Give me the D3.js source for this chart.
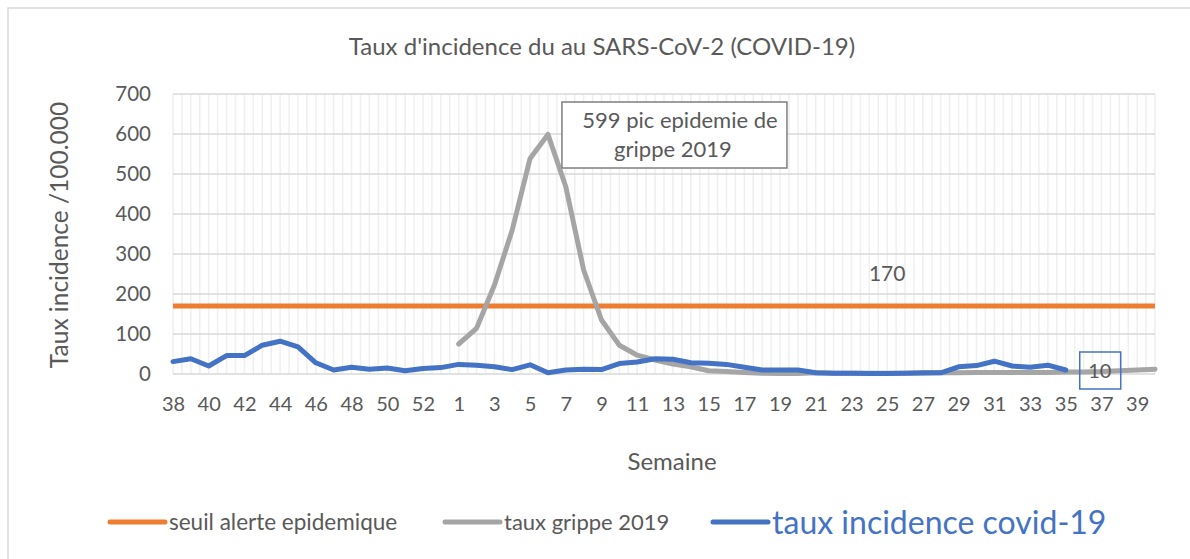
<!DOCTYPE html>
<html>
<head>
<meta charset="utf-8">
<script src="https://cdn.jsdelivr.net/npm/d3@7"></script>
<style>
  body { margin: 0; background: #fff; }
  svg text { font-family: Lato, "Open Sans", sans-serif; fill: #595959; }
</style>
</head>
<body>
<div id="chart"></div>
<script>
// weeks 38-53 (2020) then 1-40 (2021)
var weeks = d3.range(38, 54).concat(d3.range(1, 41));

// taux incidence covid-19 (weeks 38 .. 35)
var covid = [31, 38, 20, 46, 46, 72, 82, 68, 28, 10, 17, 12, 15,
    8, 14, 16, 24, 22, 18, 11, 23, 3, 10, 12, 11, 26, 30,
    38, 37, 28, 27, 24, 17, 10, 10, 10, 3, 2, 2, 1,
    1, 2, 3, 3, 18, 21, 32, 20, 17, 22, 10];

// taux grippe 2019 (starts at week 1)
var grippeStart = 16;
var grippe = [75, 114, 222, 360, 539, 599, 468, 260, 135, 72, 47, 35, 25, 18, 8, 6, 4, 2, 1, 1,
    3, 2, 2, 2, 2, 2, 2, 3, 3, 4, 4, 4, 4, 4, 5,
    5, 6, 8, 10, 12];

var seuil = 170;
var yTicks = [0, 100, 200, 300, 400, 500, 600, 700];

var svgWidth = 1190;
var svgHeight = 559;

var margin = { top: 94, right: 35, bottom: 185, left: 173 };
var width = svgWidth - margin.left - margin.right;
var height = svgHeight - margin.top - margin.bottom;

var svg = d3.select("#chart")
    .append("svg")
    .attr("width", svgWidth)
    .attr("height", svgHeight);

// outer border
svg.append("rect")
    .attr("x", 8).attr("y", 8)
    .attr("width", 1200).attr("height", 600)
    .attr("fill", "none")
    .attr("stroke", "#d9d9d9")
    .attr("stroke-width", 1.5);

var chartGroup = svg.append("g")
    .attr("transform", `translate(${margin.left}, ${margin.top})`);

var idx = d3.range(weeks.length);
var xScale = d3.scaleLinear()
    .domain([0, weeks.length - 1])
    .range([0, width]);

var yScale = d3.scaleLinear()
    .domain([0, 700])
    .range([height, 0]);

// vertical grid every half week
chartGroup.append("g")
    .selectAll("line")
    .data(d3.range(0, weeks.length - 0.5, 0.5))
    .enter()
    .append("line")
    .attr("x1", d => xScale(d))
    .attr("x2", d => xScale(d))
    .attr("y1", 0)
    .attr("y2", height)
    .attr("stroke", "#efefef")
    .attr("stroke-width", 1.5);

// horizontal grid
chartGroup.append("g")
    .selectAll("line")
    .data(yTicks)
    .enter()
    .append("line")
    .attr("x1", 0)
    .attr("x2", width)
    .attr("y1", d => yScale(d))
    .attr("y2", d => yScale(d))
    .attr("stroke", "#d9d9d9")
    .attr("stroke-width", 1.5);

// axes (labels only)
var yAxis = d3.axisLeft(yScale).tickValues(yTicks).tickSize(0).tickPadding(22);
chartGroup.append("g")
    .call(yAxis)
    .call(g => g.select(".domain").remove())
    .selectAll("text")
    .attr("font-size", "20.5px")
    .attr("fill", "#595959");

var xAxis = d3.axisBottom(xScale)
    .tickValues(idx.filter(i => i % 2 === 0))
    .tickFormat(i => weeks[i])
    .tickSize(0)
    .tickPadding(23);
chartGroup.append("g")
    .attr("transform", `translate(0, ${height})`)
    .call(xAxis)
    .call(g => g.select(".domain").remove())
    .selectAll("text")
    .attr("font-size", "20px")
    .attr("fill", "#595959");

// lines
var line = d3.line()
    .defined(d => d != null)
    .x((d, i) => xScale(i))
    .y(d => yScale(d));

var seuilData = idx.map(() => seuil);
var grippeData = idx.map(i => (i >= grippeStart && i - grippeStart < grippe.length) ? grippe[i - grippeStart] : null);
var covidData = idx.map(i => i < covid.length ? covid[i] : null);

chartGroup.append("path")
    .datum(seuilData)
    .attr("d", line)
    .attr("fill", "none")
    .attr("stroke", "#ed7d31")
    .attr("stroke-width", 5);

chartGroup.append("path")
    .datum(grippeData)
    .attr("d", line)
    .attr("fill", "none")
    .attr("stroke", "#a5a5a5")
    .attr("stroke-width", 5)
    .attr("stroke-linejoin", "round")
    .attr("stroke-linecap", "round");

chartGroup.append("path")
    .datum(covidData)
    .attr("d", line)
    .attr("fill", "none")
    .attr("stroke", "#4472c4")
    .attr("stroke-width", 5)
    .attr("stroke-linejoin", "round")
    .attr("stroke-linecap", "round");

// annotation for the flu peak
var peakI = grippe.indexOf(d3.max(grippe)) + grippeStart;
var boxX = xScale(peakI) + 14;
chartGroup.append("rect")
    .attr("x", boxX)
    .attr("y", 8)
    .attr("width", 225)
    .attr("height", 66)
    .attr("fill", "#fff")
    .attr("stroke", "#7f7f7f")
    .attr("stroke-width", 1.5);
chartGroup.append("text")
    .attr("x", boxX + 118)
    .attr("y", 34)
    .attr("text-anchor", "middle")
    .attr("font-size", "22px")
    .text(d3.max(grippe) + " pic epidemie de");
chartGroup.append("text")
    .attr("x", boxX + 111)
    .attr("y", 63)
    .attr("text-anchor", "middle")
    .attr("font-size", "22px")
    .text("grippe 2019");

// label for threshold
chartGroup.append("text")
    .attr("x", xScale(40))
    .attr("y", yScale(seuil) - 25)
    .attr("text-anchor", "middle")
    .attr("font-size", "21px")
    .text(seuil);

// label for last covid value
var lastI = covid.length - 1;
var lblX = xScale(lastI) + 34;
chartGroup.append("rect")
    .attr("x", lblX - 20)
    .attr("y", yScale(covid[lastI]) - 18)
    .attr("width", 41)
    .attr("height", 37)
    .attr("fill", "none")
    .attr("stroke", "#4472c4")
    .attr("stroke-width", 1.5);
chartGroup.append("text")
    .attr("x", lblX)
    .attr("y", yScale(covid[lastI]) + 8)
    .attr("text-anchor", "middle")
    .attr("font-size", "20px")
    .attr("fill", "#404040")
    .text(covid[lastI]);

// title
svg.append("text")
    .attr("x", 602)
    .attr("y", 55)
    .attr("text-anchor", "middle")
    .attr("font-size", "24px")
    .text("Taux d'incidence du au SARS-CoV-2 (COVID-19)");

// axis titles
svg.append("text")
    .attr("transform", "translate(68, 235) rotate(-90)")
    .attr("text-anchor", "middle")
    .attr("font-size", "24.5px")
    .text("Taux incidence  /100.000");

svg.append("text")
    .attr("x", 672)
    .attr("y", 470)
    .attr("text-anchor", "middle")
    .attr("font-size", "24px")
    .text("Semaine");

// legend
var legend = [
    { name: "seuil alerte epidemique", color: "#ed7d31", x: 110, size: 22.5, textColor: "#595959" },
    { name: "taux grippe 2019", color: "#a5a5a5", x: 445, size: 22, textColor: "#595959" },
    { name: "taux incidence covid-19", color: "#4472c4", x: 713, size: 32, textColor: "#4472c4" }
];
var lg = svg.append("g").selectAll("g").data(legend).enter().append("g");
lg.append("line")
    .attr("x1", d => d.x)
    .attr("x2", d => d.x + 55)
    .attr("y1", 522)
    .attr("y2", 522)
    .attr("stroke", d => d.color)
    .attr("stroke-width", 5)
    .attr("stroke-linecap", "round");
lg.append("text")
    .attr("x", d => d.x + 59)
    .attr("y", d => 522 + d.size * 0.36)
    .attr("font-size", d => d.size + "px")
    .style("fill", d => d.textColor)
    .text(d => d.name);
</script>
</body>
</html>
